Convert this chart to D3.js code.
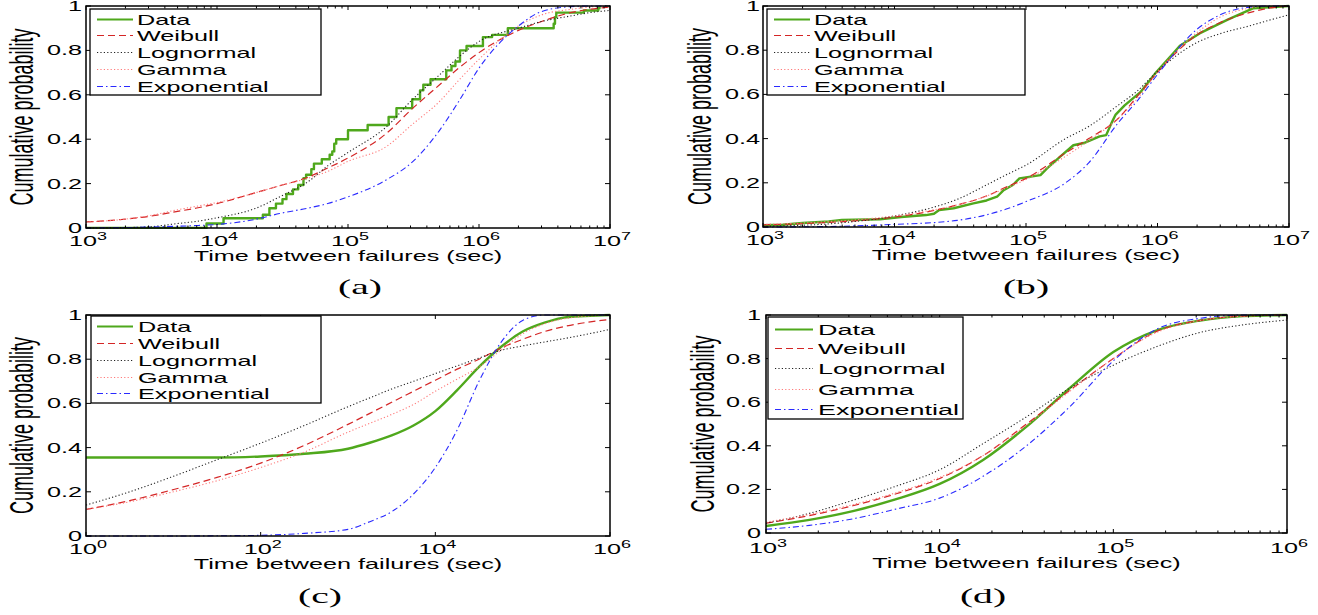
<!DOCTYPE html>
<html>
<head>
<meta charset="utf-8">
<script src="https://d3js.org/d3.v7.min.js"></script>
<style>
  body { margin: 0; background: #fff; }
  svg text { fill: #000; }
</style>
</head>
<body>
<svg id="chart" width="1318" height="615"></svg>
<script>
// all times are stored as log10(seconds)

// ---- panel (a) ----
const timeExpA = [3, 3.301, 3.477, 3.699, 3.845, 4, 4.301, 4.477, 4.699, 4.845, 5, 5.301, 5.477, 5.699, 5.845, 6, 6.301, 6.477, 6.699, 6.845, 7];
const weibullA   = [.027, .04, .052, .075, .09, .11, .16, .19, .23, .27, .315, .43, .53, .645, .72, .79, .89, .93, .97, .985, .995];
const lognormalA = [0, .002, .005, .02, .03, .046, .09, .14, .21, .28, .34, .46, .57, .69, .77, .84, .90, .93, .955, .97, .98];
const gammaA     = [.027, .04, .055, .082, .098, .115, .16, .19, .225, .255, .30, .37, .46, .57, .665, .76, .91, .96, .985, .995, 1];
const expA       = [0, .002, .004, .008, .011, .016, .04, .065, .09, .11, .14, .22, .29, .44, .57, .72, .91, .975, .997, 1, 1];
const dataTimeA = [3, 3.92, 4.05, 4.35, 4.40, 4.45, 4.50, 4.53, 4.58, 4.62, 4.66, 4.68, 4.72, 4.74, 4.80, 4.86, 4.88, 4.895, 4.91, 5.0, 5.15, 5.31, 5.37, 5.49, 5.55, 5.575, 5.63, 5.75, 5.79, 5.82, 5.855, 5.905, 6.03, 6.10, 6.22, 6.57, 6.58, 6.59, 6.80, 6.91, 6.92];
const dataProbA = [0, .02, .044, .06, .089, .11, .13, .153, .174, .194, .224, .24, .265, .29, .31, .33, .345, .38, .40, .44, .464, .50, .54, .58, .62, .645, .67, .71, .73, .75, .80, .82, .86, .87, .90, .92, .95, .97, .98, .99, 1];

// ---- panel (b) ----
const timeExpB = [3, 3.301, 3.477, 3.699, 3.845, 4, 4.301, 4.477, 4.699, 4.845, 5, 5.301, 5.477, 5.699, 5.845, 6, 6.301, 6.477, 6.699, 6.845, 7];
const weibullB   = [.01, .015, .02, .028, .035, .045, .075, .10, .14, .18, .22, .335, .40, .49, .59, .70, .87, .925, .97, .99, 1];
const lognormalB = [.003, .008, .013, .025, .035, .05, .09, .125, .19, .235, .28, .40, .455, .55, .615, .705, .835, .875, .91, .935, .96];
const gammaB     = [.012, .018, .024, .032, .04, .05, .078, .10, .14, .175, .215, .32, .39, .49, .58, .70, .88, .95, .99, 1, 1];
const expB       = [0, .001, .002, .005, .008, .012, .02, .03, .055, .08, .115, .20, .29, .47, .57, .69, .895, .96, .995, 1, 1];
const dataTimeB = [3, 3.15, 3.3, 3.5, 3.6, 3.89, 4.05, 4.24, 4.3, 4.34, 4.45, 4.6, 4.7, 4.78, 4.83, 4.9, 4.95, 5.11, 5.16, 5.26, 5.36, 5.44, 5.56, 5.61, 5.65, 5.68, 5.75, 5.87, 5.99, 6.12, 6.17, 6.32, 6.53, 6.73, 7];
const dataProbB = [.008, .01, .018, .025, .032, .035, .045, .054, .06, .077, .085, .107, .12, .137, .167, .19, .22, .235, .265, .318, .37, .38, .41, .416, .47, .507, .55, .61, .70, .786, .82, .876, .937, .99, 1];

// ---- panel (c) ----
const timeExpC = [0, .5, 1, 1.5, 2, 2.5, 3, 3.25, 3.5, 3.75, 4, 4.25, 4.5, 4.75, 5, 5.25, 5.5, 6];
const dataC      = [.355, .355, .355, .355, .36, .372, .395, .422, .455, .50, .565, .66, .765, .855, .925, .965, .99, 1];
const weibullC   = [.12, .16, .21, .265, .33, .41, .505, .555, .605, .655, .705, .755, .80, .85, .89, .925, .95, .98];
const lognormalC = [.14, .20, .27, .345, .42, .50, .585, .625, .665, .70, .735, .77, .805, .84, .86, .878, .895, .935];
const gammaC     = [.12, .155, .20, .25, .31, .38, .47, .51, .55, .595, .655, .71, .765, .84, .915, .96, .985, 1];
const expC       = [0, 0, 0, .001, .003, .012, .03, .065, .11, .19, .31, .48, .70, .875, .975, 1, 1, 1];

// ---- panel (d) ----
const timeExpD = [3, 3.25, 3.5, 3.75, 4, 4.25, 4.5, 4.75, 5, 5.25, 5.5, 5.75, 6];
const dataD      = [.032, .06, .10, .155, .225, .335, .488, .665, .83, .93, .975, .995, 1];
const weibullD   = [.045, .08, .125, .18, .25, .355, .50, .655, .80, .925, .975, .995, 1];
const lognormalD = [.045, .09, .15, .215, .29, .41, .533, .665, .77, .855, .92, .955, .977];
const gammaD     = [.05, .085, .13, .185, .255, .355, .495, .65, .80, .92, .975, .995, 1];
const expD       = [.017, .035, .065, .11, .16, .26, .40, .58, .79, .935, .985, 1, 1];

const legendNames = ["Data", "Weibull", "Lognormal", "Gamma", "Exponential"];
const yTicks = [0, 0.2, 0.4, 0.6, 0.8, 1];

const SX = 1.8; // the original figure is stretched sideways
const SANS = "'Liberation Sans', Arial, sans-serif";
const SERIF = "'Liberation Serif', 'Times New Roman', serif";

const styles = {
  Data:        { color: "#4fa81c", width: 2.4, dash: null },
  Weibull:     { color: "#d42626", width: 1.2, dash: "7,4" },
  Lognormal:   { color: "#222", width: 1.1, dash: "1.2,2.2" },
  Gamma:       { color: "#ff7a7a", width: 1.1, dash: "1.2,2.2" },
  Exponential: { color: "#2a2aff", width: 1.1, dash: "6,3,1.5,3" }
};

const panels = [
  { id: "a", left: 86, right: 610, top: 6, bottom: 228, xMin: 3, xMax: 7, labelStep: 1, minor: true,
    series: [
      { name: "Data", t: dataTimeA, v: dataProbA, step: true },
      { name: "Weibull", t: timeExpA, v: weibullA },
      { name: "Lognormal", t: timeExpA, v: lognormalA },
      { name: "Gamma", t: timeExpA, v: gammaA },
      { name: "Exponential", t: timeExpA, v: expA }],
    legend: { x: 90, y: 9, w: 231, h: 86, rows: [19.5, 35.5, 52.5, 69.5, 86.5], lineX: [97, 133], textX: 137, fs: 14 },
    ylabelX: 33, tickRight: 82, xTickDy: 18, xLabelDy: 33, caption: { x: 360, y: 294, text: "(a)" } },
  { id: "b", left: 763, right: 1289, top: 6, bottom: 227, xMin: 3, xMax: 7, labelStep: 1, minor: true,
    series: [
      { name: "Data", t: dataTimeB, v: dataProbB, linear: true },
      { name: "Weibull", t: timeExpB, v: weibullB },
      { name: "Lognormal", t: timeExpB, v: lognormalB },
      { name: "Gamma", t: timeExpB, v: gammaB },
      { name: "Exponential", t: timeExpB, v: expB }],
    legend: { x: 767, y: 9, w: 258, h: 86, rows: [19.5, 35.5, 52.5, 69.5, 86.5], lineX: [774, 810], textX: 814, fs: 14 },
    ylabelX: 711, tickRight: 760, xTickDy: 18, xLabelDy: 33, caption: { x: 1026, y: 294, text: "(b)" } },
  { id: "c", left: 86, right: 610, top: 315, bottom: 536, xMin: 0, xMax: 6, labelStep: 2, minor: false,
    series: [
      { name: "Data", t: timeExpC, v: dataC },
      { name: "Weibull", t: timeExpC, v: weibullC },
      { name: "Lognormal", t: timeExpC, v: lognormalC },
      { name: "Gamma", t: timeExpC, v: gammaC },
      { name: "Exponential", t: timeExpC, v: expC }],
    legend: { x: 91, y: 316, w: 230, h: 87, rows: [326.5, 343.5, 360.5, 377.5, 393.5], lineX: [97, 133], textX: 138, fs: 14 },
    ylabelX: 33, tickRight: 82, xTickDy: 18, xLabelDy: 33, caption: { x: 320, y: 603, text: "(c)" } },
  { id: "d", left: 766, right: 1287, top: 315, bottom: 533, xMin: 3, xMax: 6, labelStep: 1, minor: true,
    series: [
      { name: "Data", t: timeExpD, v: dataD },
      { name: "Weibull", t: timeExpD, v: weibullD },
      { name: "Lognormal", t: timeExpD, v: lognormalD },
      { name: "Gamma", t: timeExpD, v: gammaD },
      { name: "Exponential", t: timeExpD, v: expD }],
    legend: { x: 768, y: 317, w: 195, h: 102, rows: [329.5, 348.5, 368.5, 389.5, 409.5], lineX: [775, 813], textX: 818, fs: 15 },
    ylabelX: 714, tickRight: 761, xTickDy: 20, xLabelDy: 35, caption: { x: 983, y: 603, text: "(d)" } }
];

const svg = d3.select("#chart");

function stretched(g, x, y, str, size, anchor) {
  return g.append("text")
    .attr("transform", `translate(${x},${y}) scale(${SX},1)`)
    .style("font-family", SANS)
    .attr("font-size", size)
    .attr("text-anchor", anchor)
    .text(str);
}

function drawPanel(p) {
  const x = d3.scaleLog().domain([Math.pow(10, p.xMin), Math.pow(10, p.xMax)]).range([p.left, p.right]);
  const y = d3.scaleLinear().domain([0, 1]).range([p.bottom, p.top]);
  const g = svg.append("g");

  g.append("clipPath").attr("id", "clip-" + p.id)
    .append("rect")
    .attr("x", p.left).attr("y", p.top - 2)
    .attr("width", p.right - p.left).attr("height", p.bottom - p.top + 3);

  const plot = g.append("g").attr("clip-path", `url(#clip-${p.id})`);
  p.series.forEach(s => {
    const st = styles[s.name];
    const pts = s.t.map((e, i) => [Math.pow(10, e), s.v[i]]);
    const curve = s.step ? d3.curveStepAfter : (s.linear ? d3.curveLinear : d3.curveMonotoneX);
    const line = d3.line().x(d => x(d[0])).y(d => y(d[1])).curve(curve);
    plot.append("path")
      .datum(pts)
      .attr("d", line)
      .attr("fill", "none")
      .attr("stroke", st.color)
      .attr("stroke-width", st.width)
      .attr("stroke-dasharray", st.dash)
      .attr("stroke-linejoin", "round");
  });

  // ticks, pointing inwards on all four sides
  const ticks = g.append("g").attr("stroke", "#000").attr("stroke-width", 1);
  yTicks.forEach(v => {
    ticks.append("line").attr("x1", p.left).attr("x2", p.left + 5).attr("y1", y(v)).attr("y2", y(v));
    ticks.append("line").attr("x1", p.right - 5).attr("x2", p.right).attr("y1", y(v)).attr("y2", y(v));
  });
  for (let e = p.xMin; e <= p.xMax; e += p.labelStep) {
    const xx = x(Math.pow(10, e));
    ticks.append("line").attr("x1", xx).attr("x2", xx).attr("y1", p.bottom).attr("y2", p.bottom - 4);
    ticks.append("line").attr("x1", xx).attr("x2", xx).attr("y1", p.top).attr("y2", p.top + 4);
    if (p.minor && e < p.xMax) {
      for (let k = 2; k <= 9; k++) {
        const xm = x(k * Math.pow(10, e));
        ticks.append("line").attr("x1", xm).attr("x2", xm).attr("y1", p.bottom).attr("y2", p.bottom - 2.5);
        ticks.append("line").attr("x1", xm).attr("x2", xm).attr("y1", p.top).attr("y2", p.top + 2.5);
      }
    }
  }

  g.append("rect")
    .attr("x", p.left).attr("y", p.top)
    .attr("width", p.right - p.left).attr("height", p.bottom - p.top)
    .attr("fill", "none").attr("stroke", "#000").attr("stroke-width", 1.5);

  // y tick labels
  yTicks.forEach(v => {
    stretched(g, p.tickRight, y(v), v === 0 || v === 1 ? String(v) : v.toFixed(1), 14, "end")
      .attr("dy", "0.36em");
  });

  // x tick labels 10^n
  for (let e = p.xMin; e <= p.xMax; e += p.labelStep) {
    const t = g.append("text")
      .attr("transform", `translate(${x(Math.pow(10, e)) + 2},${p.bottom + p.xTickDy}) scale(${SX},1)`)
      .style("font-family", SANS)
      .attr("font-size", 14)
      .attr("text-anchor", "middle");
    t.append("tspan").text("10");
    t.append("tspan").attr("font-size", 10).attr("dy", -6).text(e);
  }

  stretched(g, (p.left + p.right) / 2, p.bottom + p.xLabelDy, "Time between failures (sec)", 14, "middle");

  g.append("text")
    .attr("transform", `translate(${p.ylabelX},${(p.top + p.bottom) / 2}) scale(1.85,1) rotate(-90)`)
    .style("font-family", SANS)
    .attr("font-size", 18)
    .attr("text-anchor", "middle")
    .text("Cumulative probability");

  // legend
  const L = p.legend;
  g.append("rect")
    .attr("x", L.x).attr("y", L.y).attr("width", L.w).attr("height", L.h)
    .attr("fill", "#fff").attr("stroke", "#000").attr("stroke-width", 1.3);
  legendNames.forEach((name, i) => {
    const st = styles[name];
    g.append("line")
      .attr("x1", L.lineX[0]).attr("x2", L.lineX[1])
      .attr("y1", L.rows[i]).attr("y2", L.rows[i])
      .attr("stroke", st.color)
      .attr("stroke-width", name === "Data" ? 2 : 1)
      .attr("stroke-dasharray", st.dash);
    stretched(g, L.textX, L.rows[i], name, L.fs, "start").attr("dy", "0.36em");
  });

  g.append("text")
    .attr("transform", `translate(${p.caption.x},${p.caption.y}) scale(${SX},1)`)
    .style("font-family", SERIF)
    .attr("font-size", 22)
    .attr("text-anchor", "middle")
    .text(p.caption.text);
}

panels.forEach(drawPanel);
</script>
</body>
</html>
